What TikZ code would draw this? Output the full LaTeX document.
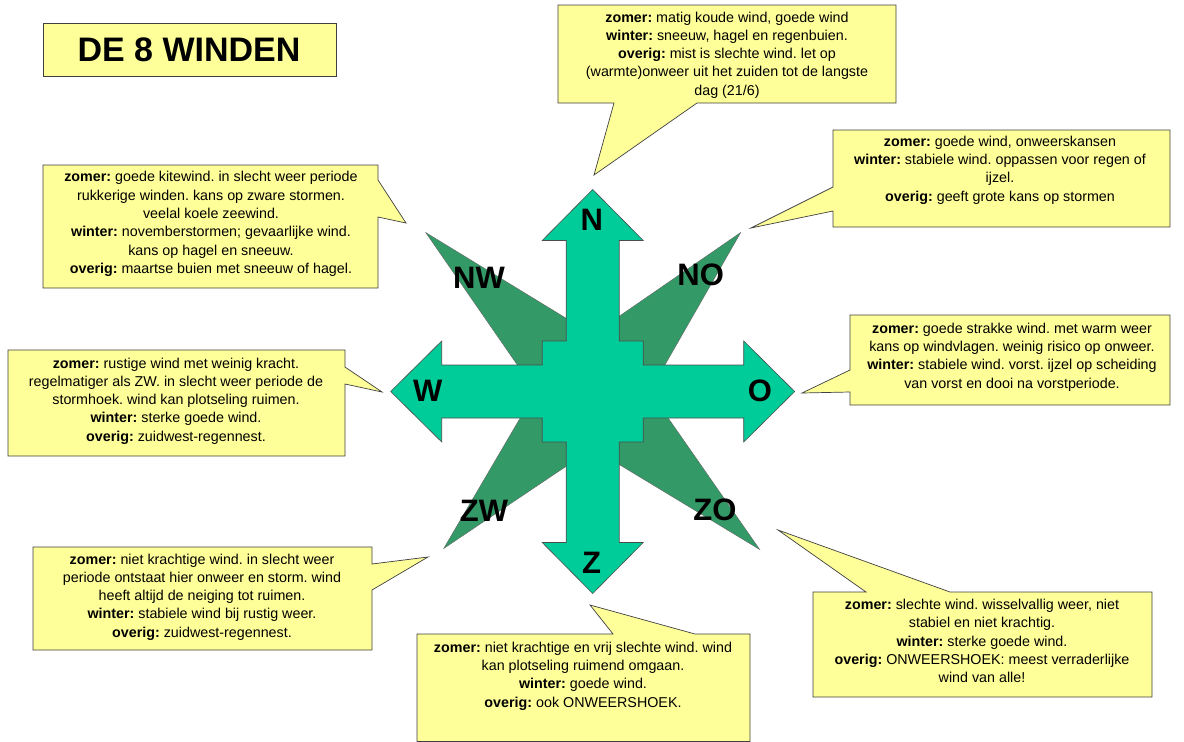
\documentclass[tikz,border=0pt]{standalone}
\usepackage{fontspec}
\setmainfont{Liberation Sans}
\usetikzlibrary{calc}
\definecolor{calloutyellow}{HTML}{FFFF99}
\definecolor{crossgreen}{HTML}{00CC99}
\definecolor{stargreen}{HTML}{339966}
\frenchspacing

\tikzset{
  balloon/.style={fill=calloutyellow, draw=black!75, line width=0.7pt, line join=miter},
  windtxt/.style={align=center, inner sep=0pt, font=\fontsize{14.3}{18.3}\selectfont},
  windlbl/.style={inner sep=0pt, font=\fontsize{31}{31}\selectfont\bfseries},
}

\begin{document}
\begin{tikzpicture}[x=1pt,y=-1pt]
\useasboundingbox (0,0) rectangle (1184,742);

%Title
\draw[balloon] (43,23) rectangle (336,76);
\node[inner sep=0pt, font=\fontsize{34}{34}\selectfont\bfseries] (title) at (189,50) {DE 8 WINDEN};

%Marking centre of the compass
\coordinate (C) at (592.7,391.5);

%Drawing the diagonal star
\begin{scope}[shift={(C)}]
\filldraw[fill=stargreen, draw=black!60, line width=0.4pt]
  (-167,-159) -- (0,-57) -- (148,-159) -- (57,0) -- (167,158)
  -- (0,57) -- (-149,157) -- (-57,0) -- cycle;

%Drawing the cross with four arrows
\filldraw[fill=crossgreen, draw=black!70, line width=0.6pt]
  (0,-202) -- (50.5,-151) -- (26.5,-151) -- (26.5,-50.5) -- (50.5,-50.5)
  -- (50.5,-26.5) -- (151,-26.5) -- (151,-50.5) -- (202,0) -- (151,50.5)
  -- (151,26.5) -- (50.5,26.5) -- (50.5,50.5) -- (26.5,50.5) -- (26.5,151)
  -- (50.5,151) -- (0,202) -- (-50.5,151) -- (-26.5,151) -- (-26.5,50.5)
  -- (-50.5,50.5) -- (-50.5,26.5) -- (-151,26.5) -- (-151,50.5) -- (-202,0)
  -- (-151,-50.5) -- (-151,-26.5) -- (-50.5,-26.5) -- (-50.5,-50.5)
  -- (-26.5,-50.5) -- (-26.5,-151) -- (-50.5,-151) -- cycle;
\end{scope}

%Wind names
\node[windlbl] (N)  at (591.7,220) {N};
\node[windlbl] (NO) at (700.7,275) {NO};
\node[windlbl] (O)  at (760,391) {O};
\node[windlbl] (ZO) at (715,510) {ZO};
\node[windlbl] (Z)  at (591.7,563) {Z};
\node[windlbl] (ZW) at (484,511) {ZW};
\node[windlbl] (W)  at (427.7,391) {W};
\node[windlbl] (NW) at (479,278) {NW};

%Callout north
\draw[balloon] (558,5) -- (896,5) -- (896,103) -- (697,103) -- (594,175)
  -- (614,103) -- (558,103) -- cycle;
\node[windtxt] (txtN) at (727,55) {\textbf{zomer:} matig koude wind, goede wind\\
  \textbf{winter:} sneeuw, hagel en regenbuien.\\
  \textbf{overig:} mist is slechte wind. let op\\
  (warmte)onweer uit het zuiden tot de langste\\
  dag (21/6)};

%Callout north-east
\draw[balloon] (833,130) -- (1170,130) -- (1170,227) -- (833,227) -- (833,211)
  -- (751,228) -- (833,187) -- cycle;
\node[windtxt] (txtNO) at (1000,170) {\textbf{zomer:} goede wind, onweerskansen\\
  \textbf{winter:} stabiele wind. oppassen voor regen of\\
  ijzel.\\
  \textbf{overig:} geeft grote kans op stormen};

%Callout east
\draw[balloon] (850,315) -- (1170,315) -- (1170,405) -- (850,405) -- (850,392)
  -- (802,393) -- (850,370) -- cycle;
\node[windtxt] (txtO) at (1012,357) {\textbf{zomer:} goede strakke wind. met warm weer\\
  kans op windvlagen. weinig risico op onweer.\\
  \textbf{winter:} stabiele wind. vorst. ijzel op scheiding\\
  van vorst en dooi na vorstperiode.};

%Callout south-east
\draw[balloon] (813,592) -- (866,592) -- (778,530) -- (950,592) -- (1152,592)
  -- (1152,697) -- (813,697) -- cycle;
\node[windtxt] (txtZO) at (982,641) {\textbf{zomer:} slechte wind. wisselvallig weer, niet\\
  stabiel en niet krachtig.\\
  \textbf{winter:} sterke goede wind.\\
  \textbf{overig:} ONWEERSHOEK: meest verraderlijke\\
  wind van alle!};

%Callout south
\draw[balloon] (417,634) -- (613,634) -- (590,605) -- (695,634) -- (750,634)
  -- (750,741.5) -- (417,741.5) -- cycle;
\node[windtxt] (txtZ) at (583,676) {\textbf{zomer:} niet krachtige en vrij slechte wind. wind\\
  kan plotseling ruimend omgaan.\\
  \textbf{winter:} goede wind.\\
  \textbf{overig:} ook ONWEERSHOEK.};

%Callout south-west
\draw[balloon] (33,547) -- (372,547) -- (372,564) -- (428,557) -- (372,590)
  -- (372,650) -- (33,650) -- cycle;
\node[windtxt] (txtZW) at (202,597) {\textbf{zomer:} niet krachtige wind. in slecht weer\\
  periode ontstaat hier onweer en storm. wind\\
  heeft altijd de neiging tot ruimen.\\
  \textbf{winter:} stabiele wind bij rustig weer.\\
  \textbf{overig:} zuidwest-regennest.};

%Callout west
\draw[balloon] (8,350) -- (345,350) -- (345,367) -- (382,392) -- (345,384)
  -- (345,456) -- (8,456) -- cycle;
\node[windtxt] (txtW) at (176,401) {\textbf{zomer:} rustige wind met weinig kracht.\\
  regelmatiger als ZW. in slecht weer periode de\\
  stormhoek. wind kan plotseling ruimen.\\
  \textbf{winter:} sterke goede wind.\\
  \textbf{overig:} zuidwest-regennest.};

%Callout north-west
\draw[balloon] (43,165) -- (378,165) -- (378,180) -- (406,223) -- (378,217)
  -- (378,288) -- (43,288) -- cycle;
\node[windtxt] (txtNW) at (211,224) {\textbf{zomer:} goede kitewind. in slecht weer periode\\
  rukkerige winden. kans op zware stormen.\\
  veelal koele zeewind.\\
  \textbf{winter:} novemberstormen; gevaarlijke wind.\\
  kans op hagel en sneeuw.\\
  \textbf{overig:} maartse buien met sneeuw of hagel.};
\end{tikzpicture}
\end{document}
